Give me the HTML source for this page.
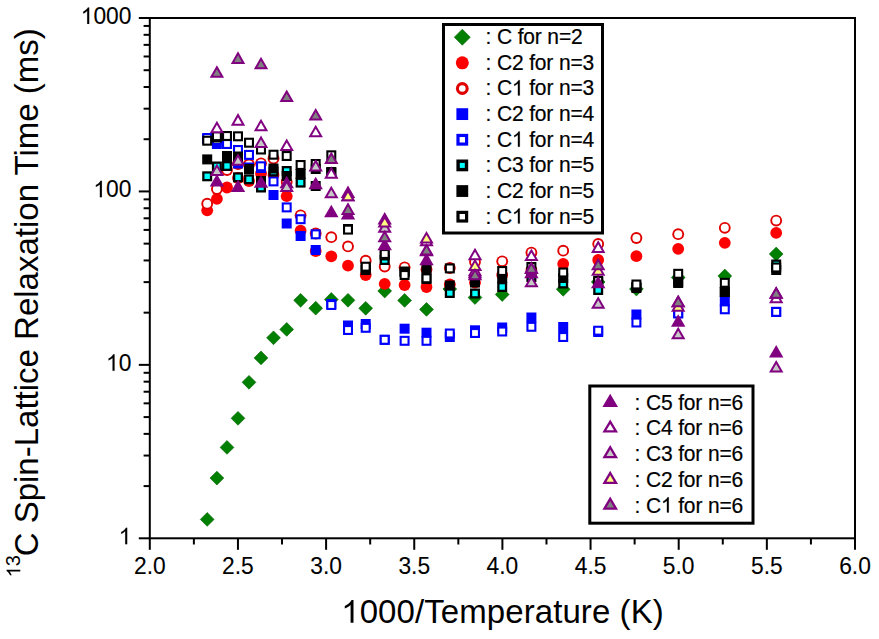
<!DOCTYPE html>
<html><head><meta charset="utf-8"><style>
html,body{margin:0;padding:0;background:#fff;}
svg{display:block;}
text{font-family:"Liberation Sans",sans-serif;fill:#000;stroke:#000;stroke-width:0.2px;}
.t20{font-size:21px;letter-spacing:-0.15px;}
.t22{font-size:22.8px;stroke-width:0.1px;}
.t32{font-size:33px;stroke-width:0;}
.h{fill-opacity:0;stroke-opacity:0;}
.ls{letter-spacing:0.08px;}
</style></head><body>
<svg width="879" height="639" viewBox="0 0 879 639">
<rect width="879" height="639" fill="#fff"/>
<rect x="149.8" y="18" width="705.2" height="520.3" fill="none" stroke="#000" stroke-width="2.0"/>
<line x1="149.8" y1="538.3" x2="149.8" y2="549.8" stroke="#000" stroke-width="2.0"/>
<line x1="193.88" y1="538.3" x2="193.88" y2="544.5" stroke="#000" stroke-width="2.0"/>
<line x1="237.95" y1="538.3" x2="237.95" y2="549.8" stroke="#000" stroke-width="2.0"/>
<line x1="282.03" y1="538.3" x2="282.03" y2="544.5" stroke="#000" stroke-width="2.0"/>
<line x1="326.1" y1="538.3" x2="326.1" y2="549.8" stroke="#000" stroke-width="2.0"/>
<line x1="370.18" y1="538.3" x2="370.18" y2="544.5" stroke="#000" stroke-width="2.0"/>
<line x1="414.25" y1="538.3" x2="414.25" y2="549.8" stroke="#000" stroke-width="2.0"/>
<line x1="458.33" y1="538.3" x2="458.33" y2="544.5" stroke="#000" stroke-width="2.0"/>
<line x1="502.4" y1="538.3" x2="502.4" y2="549.8" stroke="#000" stroke-width="2.0"/>
<line x1="546.48" y1="538.3" x2="546.48" y2="544.5" stroke="#000" stroke-width="2.0"/>
<line x1="590.55" y1="538.3" x2="590.55" y2="549.8" stroke="#000" stroke-width="2.0"/>
<line x1="634.62" y1="538.3" x2="634.62" y2="544.5" stroke="#000" stroke-width="2.0"/>
<line x1="678.7" y1="538.3" x2="678.7" y2="549.8" stroke="#000" stroke-width="2.0"/>
<line x1="722.78" y1="538.3" x2="722.78" y2="544.5" stroke="#000" stroke-width="2.0"/>
<line x1="766.85" y1="538.3" x2="766.85" y2="549.8" stroke="#000" stroke-width="2.0"/>
<line x1="810.92" y1="538.3" x2="810.92" y2="544.5" stroke="#000" stroke-width="2.0"/>
<line x1="855" y1="538.3" x2="855" y2="549.8" stroke="#000" stroke-width="2.0"/>
<line x1="138.8" y1="538.3" x2="149.8" y2="538.3" stroke="#000" stroke-width="2.0"/>
<line x1="143.6" y1="486.09" x2="149.8" y2="486.09" stroke="#000" stroke-width="2.0"/>
<line x1="143.6" y1="455.55" x2="149.8" y2="455.55" stroke="#000" stroke-width="2.0"/>
<line x1="143.6" y1="433.88" x2="149.8" y2="433.88" stroke="#000" stroke-width="2.0"/>
<line x1="143.6" y1="417.08" x2="149.8" y2="417.08" stroke="#000" stroke-width="2.0"/>
<line x1="143.6" y1="403.34" x2="149.8" y2="403.34" stroke="#000" stroke-width="2.0"/>
<line x1="143.6" y1="391.73" x2="149.8" y2="391.73" stroke="#000" stroke-width="2.0"/>
<line x1="143.6" y1="381.67" x2="149.8" y2="381.67" stroke="#000" stroke-width="2.0"/>
<line x1="143.6" y1="372.8" x2="149.8" y2="372.8" stroke="#000" stroke-width="2.0"/>
<line x1="138.8" y1="364.87" x2="149.8" y2="364.87" stroke="#000" stroke-width="2.0"/>
<line x1="143.6" y1="312.66" x2="149.8" y2="312.66" stroke="#000" stroke-width="2.0"/>
<line x1="143.6" y1="282.12" x2="149.8" y2="282.12" stroke="#000" stroke-width="2.0"/>
<line x1="143.6" y1="260.45" x2="149.8" y2="260.45" stroke="#000" stroke-width="2.0"/>
<line x1="143.6" y1="243.64" x2="149.8" y2="243.64" stroke="#000" stroke-width="2.0"/>
<line x1="143.6" y1="229.91" x2="149.8" y2="229.91" stroke="#000" stroke-width="2.0"/>
<line x1="143.6" y1="218.3" x2="149.8" y2="218.3" stroke="#000" stroke-width="2.0"/>
<line x1="143.6" y1="208.24" x2="149.8" y2="208.24" stroke="#000" stroke-width="2.0"/>
<line x1="143.6" y1="199.37" x2="149.8" y2="199.37" stroke="#000" stroke-width="2.0"/>
<line x1="138.8" y1="191.43" x2="149.8" y2="191.43" stroke="#000" stroke-width="2.0"/>
<line x1="143.6" y1="139.22" x2="149.8" y2="139.22" stroke="#000" stroke-width="2.0"/>
<line x1="143.6" y1="108.68" x2="149.8" y2="108.68" stroke="#000" stroke-width="2.0"/>
<line x1="143.6" y1="87.02" x2="149.8" y2="87.02" stroke="#000" stroke-width="2.0"/>
<line x1="143.6" y1="70.21" x2="149.8" y2="70.21" stroke="#000" stroke-width="2.0"/>
<line x1="143.6" y1="56.48" x2="149.8" y2="56.48" stroke="#000" stroke-width="2.0"/>
<line x1="143.6" y1="44.87" x2="149.8" y2="44.87" stroke="#000" stroke-width="2.0"/>
<line x1="143.6" y1="34.81" x2="149.8" y2="34.81" stroke="#000" stroke-width="2.0"/>
<line x1="143.6" y1="25.94" x2="149.8" y2="25.94" stroke="#000" stroke-width="2.0"/>
<line x1="138.8" y1="18" x2="149.8" y2="18" stroke="#000" stroke-width="2.0"/>
<polygon points="207.2,512.5 214.1,519.4 207.2,526.3 200.3,519.4" fill="#008000" stroke="#006000" stroke-width="0.6"/>
<polygon points="216.9,471.2 223.8,478.1 216.9,485 210,478.1" fill="#008000" stroke="#006000" stroke-width="0.6"/>
<polygon points="227,440.5 233.9,447.4 227,454.3 220.1,447.4" fill="#008000" stroke="#006000" stroke-width="0.6"/>
<polygon points="238,411.4 244.9,418.3 238,425.2 231.1,418.3" fill="#008000" stroke="#006000" stroke-width="0.6"/>
<polygon points="249,375.4 255.9,382.3 249,389.2 242.1,382.3" fill="#008000" stroke="#006000" stroke-width="0.6"/>
<polygon points="261,351 267.9,357.9 261,364.8 254.1,357.9" fill="#008000" stroke="#006000" stroke-width="0.6"/>
<polygon points="273.5,330.9 280.4,337.8 273.5,344.7 266.6,337.8" fill="#008000" stroke="#006000" stroke-width="0.6"/>
<polygon points="286.7,322.5 293.6,329.4 286.7,336.3 279.8,329.4" fill="#008000" stroke="#006000" stroke-width="0.6"/>
<polygon points="300.6,293.4 307.5,300.3 300.6,307.2 293.7,300.3" fill="#008000" stroke="#006000" stroke-width="0.6"/>
<polygon points="315.7,301.3 322.6,308.2 315.7,315.1 308.8,308.2" fill="#008000" stroke="#006000" stroke-width="0.6"/>
<polygon points="331.3,292.6 338.2,299.5 331.3,306.4 324.4,299.5" fill="#008000" stroke="#006000" stroke-width="0.6"/>
<polygon points="348,293.4 354.9,300.3 348,307.2 341.1,300.3" fill="#008000" stroke="#006000" stroke-width="0.6"/>
<polygon points="365.7,301.4 372.6,308.3 365.7,315.2 358.8,308.3" fill="#008000" stroke="#006000" stroke-width="0.6"/>
<polygon points="384.7,284.1 391.6,291 384.7,297.9 377.8,291" fill="#008000" stroke="#006000" stroke-width="0.6"/>
<polygon points="404.6,293.5 411.5,300.4 404.6,307.3 397.7,300.4" fill="#008000" stroke="#006000" stroke-width="0.6"/>
<polygon points="426.5,302.5 433.4,309.4 426.5,316.3 419.6,309.4" fill="#008000" stroke="#006000" stroke-width="0.6"/>
<polygon points="449.8,282.1 456.7,289 449.8,295.9 442.9,289" fill="#008000" stroke="#006000" stroke-width="0.6"/>
<polygon points="475,290.6 481.9,297.5 475,304.4 468.1,297.5" fill="#008000" stroke="#006000" stroke-width="0.6"/>
<polygon points="502.2,287.6 509.1,294.5 502.2,301.4 495.3,294.5" fill="#008000" stroke="#006000" stroke-width="0.6"/>
<polygon points="563.2,282.4 570.1,289.3 563.2,296.2 556.3,289.3" fill="#008000" stroke="#006000" stroke-width="0.6"/>
<polygon points="598.2,275.1 605.1,282 598.2,288.9 591.3,282" fill="#008000" stroke="#006000" stroke-width="0.6"/>
<polygon points="636.4,282.1 643.3,289 636.4,295.9 629.5,289" fill="#008000" stroke="#006000" stroke-width="0.6"/>
<polygon points="678.2,270.6 685.1,277.5 678.2,284.4 671.3,277.5" fill="#008000" stroke="#006000" stroke-width="0.6"/>
<polygon points="724.8,269.1 731.7,276 724.8,282.9 717.9,276" fill="#008000" stroke="#006000" stroke-width="0.6"/>
<polygon points="776.2,247.1 783.1,254 776.2,260.9 769.3,254" fill="#008000" stroke="#006000" stroke-width="0.6"/>
<circle cx="207.2" cy="210.3" r="5.9" fill="#ff0000"/>
<circle cx="216.9" cy="198.8" r="5.9" fill="#ff0000"/>
<circle cx="227" cy="187.5" r="5.9" fill="#ff0000"/>
<circle cx="238" cy="178" r="5.9" fill="#ff0000"/>
<circle cx="249" cy="181" r="5.9" fill="#ff0000"/>
<circle cx="261" cy="173.5" r="5.9" fill="#ff0000"/>
<circle cx="273.5" cy="175" r="5.9" fill="#ff0000"/>
<circle cx="286.7" cy="196.2" r="5.9" fill="#ff0000"/>
<circle cx="300.6" cy="230.7" r="5.9" fill="#ff0000"/>
<circle cx="315.7" cy="251" r="5.9" fill="#ff0000"/>
<circle cx="331.3" cy="256.3" r="5.9" fill="#ff0000"/>
<circle cx="348" cy="265.7" r="5.9" fill="#ff0000"/>
<circle cx="365.7" cy="275" r="5.9" fill="#ff0000"/>
<circle cx="384.7" cy="283.8" r="5.9" fill="#ff0000"/>
<circle cx="404.6" cy="285" r="5.9" fill="#ff0000"/>
<circle cx="426.5" cy="287" r="5.9" fill="#ff0000"/>
<circle cx="449.8" cy="284.5" r="5.9" fill="#ff0000"/>
<circle cx="475" cy="282.6" r="5.9" fill="#ff0000"/>
<circle cx="502.2" cy="275" r="5.9" fill="#ff0000"/>
<circle cx="531.4" cy="270" r="5.9" fill="#ff0000"/>
<circle cx="563.2" cy="263.8" r="5.9" fill="#ff0000"/>
<circle cx="598.2" cy="260" r="5.9" fill="#ff0000"/>
<circle cx="636.4" cy="256.2" r="5.9" fill="#ff0000"/>
<circle cx="678.2" cy="248.8" r="5.9" fill="#ff0000"/>
<circle cx="724.8" cy="242.8" r="5.9" fill="#ff0000"/>
<circle cx="776.2" cy="232.9" r="5.9" fill="#ff0000"/>
<circle cx="207.2" cy="203.7" r="5.9" fill="#e00000"/><circle cx="207.2" cy="203.7" r="4" fill="#ffffff"/>
<circle cx="216.9" cy="189" r="5.9" fill="#e00000"/><circle cx="216.9" cy="189" r="4" fill="#ffffff"/>
<circle cx="227" cy="170" r="5.9" fill="#e00000"/><circle cx="227" cy="170" r="4" fill="#ffffff"/>
<circle cx="238" cy="164" r="5.9" fill="#e00000"/><circle cx="238" cy="164" r="4" fill="#ffffff"/>
<circle cx="249" cy="164.5" r="5.9" fill="#e00000"/><circle cx="249" cy="164.5" r="4" fill="#ffffff"/>
<circle cx="261" cy="163.3" r="5.9" fill="#e00000"/><circle cx="261" cy="163.3" r="4" fill="#ffffff"/>
<circle cx="273.5" cy="158.5" r="5.9" fill="#e00000"/><circle cx="273.5" cy="158.5" r="4" fill="#ffffff"/>
<circle cx="286.7" cy="182" r="5.9" fill="#e00000"/><circle cx="286.7" cy="182" r="4" fill="#ffffff"/>
<circle cx="300.6" cy="215.3" r="5.9" fill="#e00000"/><circle cx="300.6" cy="215.3" r="4" fill="#ffffff"/>
<circle cx="315.7" cy="233.5" r="5.9" fill="#e00000"/><circle cx="315.7" cy="233.5" r="4" fill="#ffffff"/>
<circle cx="331.3" cy="237.2" r="5.9" fill="#e00000"/><circle cx="331.3" cy="237.2" r="4" fill="#ffffff"/>
<circle cx="348" cy="246.4" r="5.9" fill="#e00000"/><circle cx="348" cy="246.4" r="4" fill="#ffffff"/>
<circle cx="365.7" cy="260.7" r="5.9" fill="#e00000"/><circle cx="365.7" cy="260.7" r="4" fill="#ffffff"/>
<circle cx="384.7" cy="266.5" r="5.9" fill="#e00000"/><circle cx="384.7" cy="266.5" r="4" fill="#ffffff"/>
<circle cx="404.6" cy="267.3" r="5.9" fill="#e00000"/><circle cx="404.6" cy="267.3" r="4" fill="#ffffff"/>
<circle cx="426.5" cy="269.5" r="5.9" fill="#e00000"/><circle cx="426.5" cy="269.5" r="4" fill="#ffffff"/>
<circle cx="449.8" cy="268" r="5.9" fill="#e00000"/><circle cx="449.8" cy="268" r="4" fill="#ffffff"/>
<circle cx="475" cy="262" r="5.9" fill="#e00000"/><circle cx="475" cy="262" r="4" fill="#ffffff"/>
<circle cx="502.2" cy="261.3" r="5.9" fill="#e00000"/><circle cx="502.2" cy="261.3" r="4" fill="#ffffff"/>
<circle cx="531.4" cy="252.6" r="5.9" fill="#e00000"/><circle cx="531.4" cy="252.6" r="4" fill="#ffffff"/>
<circle cx="563.2" cy="250.7" r="5.9" fill="#e00000"/><circle cx="563.2" cy="250.7" r="4" fill="#ffffff"/>
<circle cx="598.2" cy="243.9" r="5.9" fill="#e00000"/><circle cx="598.2" cy="243.9" r="4" fill="#ffffff"/>
<circle cx="636.4" cy="238" r="5.9" fill="#e00000"/><circle cx="636.4" cy="238" r="4" fill="#ffffff"/>
<circle cx="678.2" cy="234.2" r="5.9" fill="#e00000"/><circle cx="678.2" cy="234.2" r="4" fill="#ffffff"/>
<circle cx="724.8" cy="227.8" r="5.9" fill="#e00000"/><circle cx="724.8" cy="227.8" r="4" fill="#ffffff"/>
<circle cx="776.2" cy="220.6" r="5.9" fill="#e00000"/><circle cx="776.2" cy="220.6" r="4" fill="#ffffff"/>
<rect x="202.2" y="134" width="10" height="10" fill="#0000ff"/>
<rect x="211.9" y="139" width="10" height="10" fill="#0000ff"/>
<rect x="222" y="151" width="10" height="10" fill="#0000ff"/>
<rect x="233" y="158.5" width="10" height="10" fill="#0000ff"/>
<rect x="244" y="162.5" width="10" height="10" fill="#0000ff"/>
<rect x="256" y="163" width="10" height="10" fill="#0000ff"/>
<rect x="268.5" y="190" width="10" height="10" fill="#0000ff"/>
<rect x="281.7" y="218.5" width="10" height="10" fill="#0000ff"/>
<rect x="295.6" y="231" width="10" height="10" fill="#0000ff"/>
<rect x="310.7" y="245" width="10" height="10" fill="#0000ff"/>
<rect x="326.3" y="299" width="10" height="10" fill="#0000ff"/>
<rect x="343" y="320.5" width="10" height="10" fill="#0000ff"/>
<rect x="360.7" y="319" width="10" height="10" fill="#0000ff"/>
<rect x="379.7" y="334.8" width="10" height="10" fill="#0000ff"/>
<rect x="399.6" y="323.7" width="10" height="10" fill="#0000ff"/>
<rect x="421.5" y="327.7" width="10" height="10" fill="#0000ff"/>
<rect x="444.8" y="332" width="10" height="10" fill="#0000ff"/>
<rect x="470" y="325.3" width="10" height="10" fill="#0000ff"/>
<rect x="497.2" y="322.5" width="10" height="10" fill="#0000ff"/>
<rect x="526.4" y="312.5" width="10" height="10" fill="#0000ff"/>
<rect x="558.2" y="322" width="10" height="10" fill="#0000ff"/>
<rect x="593.2" y="327" width="10" height="10" fill="#0000ff"/>
<rect x="631.4" y="309.5" width="10" height="10" fill="#0000ff"/>
<rect x="673.2" y="308" width="10" height="10" fill="#0000ff"/>
<rect x="719.8" y="296.5" width="10" height="10" fill="#0000ff"/>
<rect x="771.2" y="306.9" width="10" height="10" fill="#0000ff"/>
<rect x="202.2" y="133" width="10" height="10" fill="#0000ff"/><rect x="204.3" y="135.1" width="5.8" height="5.8" fill="#ffffff"/>
<rect x="211.9" y="135" width="10" height="10" fill="#0000ff"/><rect x="214" y="137.1" width="5.8" height="5.8" fill="#ffffff"/>
<rect x="222" y="139" width="10" height="10" fill="#0000ff"/><rect x="224.1" y="141.1" width="5.8" height="5.8" fill="#ffffff"/>
<rect x="233" y="145" width="10" height="10" fill="#0000ff"/><rect x="235.1" y="147.1" width="5.8" height="5.8" fill="#ffffff"/>
<rect x="244" y="149.9" width="10" height="10" fill="#0000ff"/><rect x="246.1" y="152" width="5.8" height="5.8" fill="#ffffff"/>
<rect x="256" y="161.3" width="10" height="10" fill="#0000ff"/><rect x="258.1" y="163.4" width="5.8" height="5.8" fill="#ffffff"/>
<rect x="268.5" y="176.4" width="10" height="10" fill="#0000ff"/><rect x="270.6" y="178.5" width="5.8" height="5.8" fill="#ffffff"/>
<rect x="281.7" y="202.4" width="10" height="10" fill="#0000ff"/><rect x="283.8" y="204.5" width="5.8" height="5.8" fill="#ffffff"/>
<rect x="295.6" y="214.2" width="10" height="10" fill="#0000ff"/><rect x="297.7" y="216.3" width="5.8" height="5.8" fill="#ffffff"/>
<rect x="310.7" y="229.3" width="10" height="10" fill="#0000ff"/><rect x="312.8" y="231.4" width="5.8" height="5.8" fill="#ffffff"/>
<rect x="326.3" y="300" width="10" height="10" fill="#0000ff"/><rect x="328.4" y="302.1" width="5.8" height="5.8" fill="#ffffff"/>
<rect x="343" y="325" width="10" height="10" fill="#0000ff"/><rect x="345.1" y="327.1" width="5.8" height="5.8" fill="#ffffff"/>
<rect x="360.7" y="322.8" width="10" height="10" fill="#0000ff"/><rect x="362.8" y="324.9" width="5.8" height="5.8" fill="#ffffff"/>
<rect x="379.7" y="334.8" width="10" height="10" fill="#0000ff"/><rect x="381.8" y="336.9" width="5.8" height="5.8" fill="#ffffff"/>
<rect x="399.6" y="335.8" width="10" height="10" fill="#0000ff"/><rect x="401.7" y="337.9" width="5.8" height="5.8" fill="#ffffff"/>
<rect x="421.5" y="335.8" width="10" height="10" fill="#0000ff"/><rect x="423.6" y="337.9" width="5.8" height="5.8" fill="#ffffff"/>
<rect x="444.8" y="328.5" width="10" height="10" fill="#0000ff"/><rect x="446.9" y="330.6" width="5.8" height="5.8" fill="#ffffff"/>
<rect x="470" y="328" width="10" height="10" fill="#0000ff"/><rect x="472.1" y="330.1" width="5.8" height="5.8" fill="#ffffff"/>
<rect x="497.2" y="326.5" width="10" height="10" fill="#0000ff"/><rect x="499.3" y="328.6" width="5.8" height="5.8" fill="#ffffff"/>
<rect x="526.4" y="321.8" width="10" height="10" fill="#0000ff"/><rect x="528.5" y="323.9" width="5.8" height="5.8" fill="#ffffff"/>
<rect x="558.2" y="332" width="10" height="10" fill="#0000ff"/><rect x="560.3" y="334.1" width="5.8" height="5.8" fill="#ffffff"/>
<rect x="593.2" y="325.7" width="10" height="10" fill="#0000ff"/><rect x="595.3" y="327.8" width="5.8" height="5.8" fill="#ffffff"/>
<rect x="631.4" y="317.5" width="10" height="10" fill="#0000ff"/><rect x="633.5" y="319.6" width="5.8" height="5.8" fill="#ffffff"/>
<rect x="673.2" y="308.5" width="10" height="10" fill="#0000ff"/><rect x="675.3" y="310.6" width="5.8" height="5.8" fill="#ffffff"/>
<rect x="719.8" y="304.3" width="10" height="10" fill="#0000ff"/><rect x="721.9" y="306.4" width="5.8" height="5.8" fill="#ffffff"/>
<rect x="771.2" y="306.9" width="10" height="10" fill="#0000ff"/><rect x="773.3" y="309" width="5.8" height="5.8" fill="#ffffff"/>
<rect x="202.2" y="171.3" width="10" height="10" fill="#000000"/><rect x="204.5" y="173.6" width="5.4" height="5.4" fill="#00ffff"/>
<rect x="211.9" y="161.5" width="10" height="10" fill="#000000"/><rect x="214.2" y="163.8" width="5.4" height="5.4" fill="#00ffff"/>
<rect x="222" y="161" width="10" height="10" fill="#000000"/><rect x="224.3" y="163.3" width="5.4" height="5.4" fill="#00ffff"/>
<rect x="233" y="172.3" width="10" height="10" fill="#000000"/><rect x="235.3" y="174.6" width="5.4" height="5.4" fill="#00ffff"/>
<rect x="244" y="174.3" width="10" height="10" fill="#000000"/><rect x="246.3" y="176.6" width="5.4" height="5.4" fill="#00ffff"/>
<rect x="256" y="182.5" width="10" height="10" fill="#000000"/><rect x="258.3" y="184.8" width="5.4" height="5.4" fill="#00ffff"/>
<rect x="268.5" y="166.5" width="10" height="10" fill="#000000"/><rect x="270.8" y="168.8" width="5.4" height="5.4" fill="#00ffff"/>
<rect x="281.7" y="166" width="10" height="10" fill="#000000"/><rect x="284" y="168.3" width="5.4" height="5.4" fill="#00ffff"/>
<rect x="295.6" y="177.6" width="10" height="10" fill="#000000"/><rect x="297.9" y="179.9" width="5.4" height="5.4" fill="#00ffff"/>
<rect x="310.7" y="181" width="10" height="10" fill="#000000"/><rect x="313" y="183.3" width="5.4" height="5.4" fill="#00ffff"/>
<rect x="326.3" y="167" width="10" height="10" fill="#000000"/><rect x="328.6" y="169.3" width="5.4" height="5.4" fill="#00ffff"/>
<rect x="343" y="224" width="10" height="10" fill="#000000"/><rect x="345.3" y="226.3" width="5.4" height="5.4" fill="#00ffff"/>
<rect x="360.7" y="265" width="10" height="10" fill="#000000"/><rect x="363" y="267.3" width="5.4" height="5.4" fill="#00ffff"/>
<rect x="379.7" y="255" width="10" height="10" fill="#000000"/><rect x="382" y="257.3" width="5.4" height="5.4" fill="#00ffff"/>
<rect x="399.6" y="267" width="10" height="10" fill="#000000"/><rect x="401.9" y="269.3" width="5.4" height="5.4" fill="#00ffff"/>
<rect x="421.5" y="274" width="10" height="10" fill="#000000"/><rect x="423.8" y="276.3" width="5.4" height="5.4" fill="#00ffff"/>
<rect x="444.8" y="288" width="10" height="10" fill="#000000"/><rect x="447.1" y="290.3" width="5.4" height="5.4" fill="#00ffff"/>
<rect x="470" y="288.5" width="10" height="10" fill="#000000"/><rect x="472.3" y="290.8" width="5.4" height="5.4" fill="#00ffff"/>
<rect x="497.2" y="282" width="10" height="10" fill="#000000"/><rect x="499.5" y="284.3" width="5.4" height="5.4" fill="#00ffff"/>
<rect x="526.4" y="272" width="10" height="10" fill="#000000"/><rect x="528.7" y="274.3" width="5.4" height="5.4" fill="#00ffff"/>
<rect x="558.2" y="278.5" width="10" height="10" fill="#000000"/><rect x="560.5" y="280.8" width="5.4" height="5.4" fill="#00ffff"/>
<rect x="593.2" y="285" width="10" height="10" fill="#000000"/><rect x="595.5" y="287.3" width="5.4" height="5.4" fill="#00ffff"/>
<rect x="631.4" y="283" width="10" height="10" fill="#000000"/><rect x="633.7" y="285.3" width="5.4" height="5.4" fill="#00ffff"/>
<rect x="673.2" y="278" width="10" height="10" fill="#000000"/><rect x="675.5" y="280.3" width="5.4" height="5.4" fill="#00ffff"/>
<rect x="719.8" y="287" width="10" height="10" fill="#000000"/><rect x="722.1" y="289.3" width="5.4" height="5.4" fill="#00ffff"/>
<rect x="771.2" y="259.5" width="10" height="10" fill="#000000"/><rect x="773.5" y="261.8" width="5.4" height="5.4" fill="#00ffff"/>
<rect x="202.2" y="154.4" width="10" height="10" fill="#000000"/>
<rect x="211.9" y="132.5" width="10" height="10" fill="#000000"/>
<rect x="222" y="151" width="10" height="10" fill="#000000"/>
<rect x="233" y="151.5" width="10" height="10" fill="#000000"/>
<rect x="244" y="164" width="10" height="10" fill="#000000"/>
<rect x="256" y="176" width="10" height="10" fill="#000000"/>
<rect x="268.5" y="163.5" width="10" height="10" fill="#000000"/>
<rect x="281.7" y="171" width="10" height="10" fill="#000000"/>
<rect x="295.6" y="169" width="10" height="10" fill="#000000"/>
<rect x="310.7" y="164" width="10" height="10" fill="#000000"/>
<rect x="326.3" y="167.7" width="10" height="10" fill="#000000"/>
<rect x="343" y="224" width="10" height="10" fill="#000000"/>
<rect x="360.7" y="263" width="10" height="10" fill="#000000"/>
<rect x="379.7" y="250.5" width="10" height="10" fill="#000000"/>
<rect x="399.6" y="266.5" width="10" height="10" fill="#000000"/>
<rect x="421.5" y="264.3" width="10" height="10" fill="#000000"/>
<rect x="444.8" y="280.5" width="10" height="10" fill="#000000"/>
<rect x="470" y="277.5" width="10" height="10" fill="#000000"/>
<rect x="497.2" y="273" width="10" height="10" fill="#000000"/>
<rect x="526.4" y="267" width="10" height="10" fill="#000000"/>
<rect x="558.2" y="273" width="10" height="10" fill="#000000"/>
<rect x="593.2" y="277" width="10" height="10" fill="#000000"/>
<rect x="631.4" y="282" width="10" height="10" fill="#000000"/>
<rect x="673.2" y="277" width="10" height="10" fill="#000000"/>
<rect x="719.8" y="287" width="10" height="10" fill="#000000"/>
<rect x="771.2" y="265" width="10" height="10" fill="#000000"/>
<rect x="202.2" y="135.7" width="10" height="10" fill="#000000"/><rect x="204.3" y="137.8" width="5.8" height="5.8" fill="#ffffff"/>
<rect x="211.9" y="131.2" width="10" height="10" fill="#000000"/><rect x="214" y="133.3" width="5.8" height="5.8" fill="#ffffff"/>
<rect x="222" y="131" width="10" height="10" fill="#000000"/><rect x="224.1" y="133.1" width="5.8" height="5.8" fill="#ffffff"/>
<rect x="233" y="131.3" width="10" height="10" fill="#000000"/><rect x="235.1" y="133.4" width="5.8" height="5.8" fill="#ffffff"/>
<rect x="244" y="137.7" width="10" height="10" fill="#000000"/><rect x="246.1" y="139.8" width="5.8" height="5.8" fill="#ffffff"/>
<rect x="256" y="144.5" width="10" height="10" fill="#000000"/><rect x="258.1" y="146.6" width="5.8" height="5.8" fill="#ffffff"/>
<rect x="268.5" y="149.7" width="10" height="10" fill="#000000"/><rect x="270.6" y="151.8" width="5.8" height="5.8" fill="#ffffff"/>
<rect x="281.7" y="151" width="10" height="10" fill="#000000"/><rect x="283.8" y="153.1" width="5.8" height="5.8" fill="#ffffff"/>
<rect x="295.6" y="160" width="10" height="10" fill="#000000"/><rect x="297.7" y="162.1" width="5.8" height="5.8" fill="#ffffff"/>
<rect x="310.7" y="159" width="10" height="10" fill="#000000"/><rect x="312.8" y="161.1" width="5.8" height="5.8" fill="#ffffff"/>
<rect x="326.3" y="150.3" width="10" height="10" fill="#000000"/><rect x="328.4" y="152.4" width="5.8" height="5.8" fill="#ffffff"/>
<rect x="343" y="224.6" width="10" height="10" fill="#000000"/><rect x="345.1" y="226.7" width="5.8" height="5.8" fill="#ffffff"/>
<rect x="360.7" y="261.7" width="10" height="10" fill="#000000"/><rect x="362.8" y="263.8" width="5.8" height="5.8" fill="#ffffff"/>
<rect x="379.7" y="249" width="10" height="10" fill="#000000"/><rect x="381.8" y="251.1" width="5.8" height="5.8" fill="#ffffff"/>
<rect x="399.6" y="270" width="10" height="10" fill="#000000"/><rect x="401.7" y="272.1" width="5.8" height="5.8" fill="#ffffff"/>
<rect x="421.5" y="273.3" width="10" height="10" fill="#000000"/><rect x="423.6" y="275.4" width="5.8" height="5.8" fill="#ffffff"/>
<rect x="444.8" y="263.4" width="10" height="10" fill="#000000"/><rect x="446.9" y="265.5" width="5.8" height="5.8" fill="#ffffff"/>
<rect x="497.2" y="266" width="10" height="10" fill="#000000"/><rect x="499.3" y="268.1" width="5.8" height="5.8" fill="#ffffff"/>
<rect x="526.4" y="262" width="10" height="10" fill="#000000"/><rect x="528.5" y="264.1" width="5.8" height="5.8" fill="#ffffff"/>
<rect x="558.2" y="267.5" width="10" height="10" fill="#000000"/><rect x="560.3" y="269.6" width="5.8" height="5.8" fill="#ffffff"/>
<rect x="593.2" y="276" width="10" height="10" fill="#000000"/><rect x="595.3" y="278.1" width="5.8" height="5.8" fill="#ffffff"/>
<rect x="631.4" y="279.5" width="10" height="10" fill="#000000"/><rect x="633.5" y="281.6" width="5.8" height="5.8" fill="#ffffff"/>
<rect x="673.2" y="268.8" width="10" height="10" fill="#000000"/><rect x="675.3" y="270.9" width="5.8" height="5.8" fill="#ffffff"/>
<rect x="719.8" y="277.8" width="10" height="10" fill="#000000"/><rect x="721.9" y="279.9" width="5.8" height="5.8" fill="#ffffff"/>
<rect x="771.2" y="262.5" width="10" height="10" fill="#000000"/><rect x="773.3" y="264.6" width="5.8" height="5.8" fill="#ffffff"/>
<polygon points="216.9,173.9 224.1,186.5 209.7,186.5" fill="#800080"/>
<polygon points="238,179.5 245.2,192.1 230.8,192.1" fill="#800080"/>
<polygon points="261,175.2 268.2,187.8 253.8,187.8" fill="#800080"/>
<polygon points="286.7,175.7 293.9,188.3 279.5,188.3" fill="#800080"/>
<polygon points="315.7,176.7 322.9,189.3 308.5,189.3" fill="#800080"/>
<polygon points="331.3,204.7 338.5,217.3 324.1,217.3" fill="#800080"/>
<polygon points="348,206.9 355.2,219.5 340.8,219.5" fill="#800080"/>
<polygon points="384.7,237.7 391.9,250.3 377.5,250.3" fill="#800080"/>
<polygon points="426.5,252.7 433.7,265.3 419.3,265.3" fill="#800080"/>
<polygon points="475,265.7 482.2,278.3 467.8,278.3" fill="#800080"/>
<polygon points="531.4,265.7 538.6,278.3 524.2,278.3" fill="#800080"/>
<polygon points="598.2,275.7 605.4,288.3 591,288.3" fill="#800080"/>
<polygon points="678.2,314.2 685.4,326.8 671,326.8" fill="#800080"/>
<polygon points="776.2,344.9 783.4,357.5 769,357.5" fill="#800080"/>
<polygon points="216.9,120.7 224.1,133.3 209.7,133.3" fill="#800080"/><polygon points="216.9,124.73 220.65,131.3 213.15,131.3" fill="#ffffff"/>
<polygon points="238,113.1 245.2,125.7 230.8,125.7" fill="#800080"/><polygon points="238,117.13 241.75,123.7 234.25,123.7" fill="#ffffff"/>
<polygon points="261,118.7 268.2,131.3 253.8,131.3" fill="#800080"/><polygon points="261,122.73 264.75,129.3 257.25,129.3" fill="#ffffff"/>
<polygon points="286.7,138.5 293.9,151.1 279.5,151.1" fill="#800080"/><polygon points="286.7,142.53 290.45,149.1 282.95,149.1" fill="#ffffff"/>
<polygon points="315.7,124.7 322.9,137.3 308.5,137.3" fill="#800080"/><polygon points="315.7,128.73 319.45,135.3 311.95,135.3" fill="#ffffff"/>
<polygon points="331.3,166.2 338.5,178.8 324.1,178.8" fill="#800080"/><polygon points="331.3,170.23 335.05,176.8 327.55,176.8" fill="#ffffff"/>
<polygon points="348,185.5 355.2,198.1 340.8,198.1" fill="#800080"/><polygon points="348,189.53 351.75,196.1 344.25,196.1" fill="#ffffff"/>
<polygon points="384.7,212 391.9,224.6 377.5,224.6" fill="#800080"/><polygon points="384.7,216.03 388.45,222.6 380.95,222.6" fill="#ffffff"/>
<polygon points="426.5,233.7 433.7,246.3 419.3,246.3" fill="#800080"/><polygon points="426.5,237.73 430.25,244.3 422.75,244.3" fill="#ffffff"/>
<polygon points="475,247.7 482.2,260.3 467.8,260.3" fill="#800080"/><polygon points="475,251.73 478.75,258.3 471.25,258.3" fill="#ffffff"/>
<polygon points="531.4,248.5 538.6,261.1 524.2,261.1" fill="#800080"/><polygon points="531.4,252.53 535.15,259.1 527.65,259.1" fill="#ffffff"/>
<polygon points="598.2,240.3 605.4,252.9 591,252.9" fill="#800080"/><polygon points="598.2,244.33 601.95,250.9 594.45,250.9" fill="#ffffff"/>
<polygon points="678.2,294.7 685.4,307.3 671,307.3" fill="#800080"/><polygon points="678.2,298.73 681.95,305.3 674.45,305.3" fill="#ffffff"/>
<polygon points="776.2,290.7 783.4,303.3 769,303.3" fill="#800080"/><polygon points="776.2,294.73 779.95,301.3 772.45,301.3" fill="#ffffff"/>
<polygon points="216.9,163.4 224.1,176 209.7,176" fill="#800080"/><polygon points="216.9,167.43 220.65,174 213.15,174" fill="#c8c8c8"/>
<polygon points="238,153.2 245.2,165.8 230.8,165.8" fill="#800080"/><polygon points="238,157.23 241.75,163.8 234.25,163.8" fill="#c8c8c8"/>
<polygon points="261,135.5 268.2,148.1 253.8,148.1" fill="#800080"/><polygon points="261,139.53 264.75,146.1 257.25,146.1" fill="#c8c8c8"/>
<polygon points="286.7,179.4 293.9,192 279.5,192" fill="#800080"/><polygon points="286.7,183.43 290.45,190 282.95,190" fill="#c8c8c8"/>
<polygon points="315.7,159 322.9,171.6 308.5,171.6" fill="#800080"/><polygon points="315.7,163.03 319.45,169.6 311.95,169.6" fill="#c8c8c8"/>
<polygon points="331.3,185.7 338.5,198.3 324.1,198.3" fill="#800080"/><polygon points="331.3,189.73 335.05,196.3 327.55,196.3" fill="#c8c8c8"/>
<polygon points="348,188.7 355.2,201.3 340.8,201.3" fill="#800080"/><polygon points="348,192.73 351.75,199.3 344.25,199.3" fill="#c8c8c8"/>
<polygon points="384.7,220.1 391.9,232.7 377.5,232.7" fill="#800080"/><polygon points="384.7,224.13 388.45,230.7 380.95,230.7" fill="#c8c8c8"/>
<polygon points="426.5,243.7 433.7,256.3 419.3,256.3" fill="#800080"/><polygon points="426.5,247.73 430.25,254.3 422.75,254.3" fill="#c8c8c8"/>
<polygon points="475,263.7 482.2,276.3 467.8,276.3" fill="#800080"/><polygon points="475,267.73 478.75,274.3 471.25,274.3" fill="#c8c8c8"/>
<polygon points="531.4,274.7 538.6,287.3 524.2,287.3" fill="#800080"/><polygon points="531.4,278.73 535.15,285.3 527.65,285.3" fill="#c8c8c8"/>
<polygon points="598.2,296.2 605.4,308.8 591,308.8" fill="#800080"/><polygon points="598.2,300.23 601.95,306.8 594.45,306.8" fill="#c8c8c8"/>
<polygon points="678.2,326.7 685.4,339.3 671,339.3" fill="#800080"/><polygon points="678.2,330.73 681.95,337.3 674.45,337.3" fill="#c8c8c8"/>
<polygon points="776.2,359.9 783.4,372.5 769,372.5" fill="#800080"/><polygon points="776.2,363.93 779.95,370.5 772.45,370.5" fill="#c8c8c8"/>
<polygon points="348,188.7 355.2,201.3 340.8,201.3" fill="#800080"/><polygon points="348,192.73 351.75,199.3 344.25,199.3" fill="#ffff80"/>
<polygon points="384.7,215 391.9,227.6 377.5,227.6" fill="#800080"/><polygon points="384.7,219.03 388.45,225.6 380.95,225.6" fill="#ffff80"/>
<polygon points="426.5,230.9 433.7,243.5 419.3,243.5" fill="#800080"/><polygon points="426.5,234.93 430.25,241.5 422.75,241.5" fill="#ffff80"/>
<polygon points="475,258.5 482.2,271.1 467.8,271.1" fill="#800080"/><polygon points="475,262.53 478.75,269.1 471.25,269.1" fill="#ffff80"/>
<polygon points="531.4,261.2 538.6,273.8 524.2,273.8" fill="#800080"/><polygon points="531.4,265.23 535.15,271.8 527.65,271.8" fill="#ffff80"/>
<polygon points="598.2,263.2 605.4,275.8 591,275.8" fill="#800080"/><polygon points="598.2,267.23 601.95,273.8 594.45,273.8" fill="#ffff80"/>
<polygon points="678.2,299.2 685.4,311.8 671,311.8" fill="#800080"/><polygon points="678.2,303.23 681.95,309.8 674.45,309.8" fill="#ffff80"/>
<polygon points="776.2,286.2 783.4,298.8 769,298.8" fill="#800080"/><polygon points="776.2,290.23 779.95,296.8 772.45,296.8" fill="#ffff80"/>
<polygon points="216.9,65.2 224.1,77.8 209.7,77.8" fill="#800080"/><polygon points="216.9,69.23 220.65,75.8 213.15,75.8" fill="#808080"/>
<polygon points="238,51.3 245.2,63.9 230.8,63.9" fill="#800080"/><polygon points="238,55.33 241.75,61.9 234.25,61.9" fill="#808080"/>
<polygon points="261,56.7 268.2,69.3 253.8,69.3" fill="#800080"/><polygon points="261,60.73 264.75,67.3 257.25,67.3" fill="#808080"/>
<polygon points="286.7,89.5 293.9,102.1 279.5,102.1" fill="#800080"/><polygon points="286.7,93.53 290.45,100.1 282.95,100.1" fill="#808080"/>
<polygon points="315.7,108 322.9,120.6 308.5,120.6" fill="#800080"/><polygon points="315.7,112.03 319.45,118.6 311.95,118.6" fill="#808080"/>
<polygon points="331.3,151.5 338.5,164.1 324.1,164.1" fill="#800080"/><polygon points="331.3,155.53 335.05,162.1 327.55,162.1" fill="#808080"/>
<polygon points="348,202.3 355.2,214.9 340.8,214.9" fill="#800080"/><polygon points="348,206.33 351.75,212.9 344.25,212.9" fill="#808080"/>
<polygon points="384.7,229.7 391.9,242.3 377.5,242.3" fill="#800080"/><polygon points="384.7,233.73 388.45,240.3 380.95,240.3" fill="#808080"/>
<polygon points="426.5,243 433.7,255.6 419.3,255.6" fill="#800080"/><polygon points="426.5,247.03 430.25,253.6 422.75,253.6" fill="#808080"/>
<polygon points="475,267.7 482.2,280.3 467.8,280.3" fill="#800080"/><polygon points="475,271.73 478.75,278.3 471.25,278.3" fill="#808080"/>
<polygon points="531.4,261.2 538.6,273.8 524.2,273.8" fill="#800080"/><polygon points="531.4,265.23 535.15,271.8 527.65,271.8" fill="#808080"/>
<polygon points="598.2,257.7 605.4,270.3 591,270.3" fill="#800080"/><polygon points="598.2,261.73 601.95,268.3 594.45,268.3" fill="#808080"/>
<polygon points="678.2,294.7 685.4,307.3 671,307.3" fill="#800080"/><polygon points="678.2,298.73 681.95,305.3 674.45,305.3" fill="#808080"/>
<polygon points="776.2,286.2 783.4,298.8 769,298.8" fill="#800080"/><polygon points="776.2,290.23 779.95,296.8 772.45,296.8" fill="#808080"/>
<rect x="443.5" y="24.5" width="159" height="208.5" fill="#fff" stroke="#000" stroke-width="3"/>
<polygon points="462.3,29.2 470.3,37.2 462.3,45.2 454.3,37.2" fill="#008000" stroke="#006000" stroke-width="0.6"/>
<circle cx="462.3" cy="62.84" r="6.5" fill="#ff0000"/>
<circle cx="462.3" cy="88.48" r="6.4" fill="#e00000"/><circle cx="462.3" cy="88.48" r="3.3" fill="#fff"/>
<rect x="456.4" y="108.22" width="11.8" height="11.8" fill="#0000ff"/>
<rect x="456.4" y="133.86" width="11.8" height="11.8" fill="#0000ff"/><rect x="459.6" y="137.06" width="5.4" height="5.4" fill="#fff"/>
<rect x="456.4" y="159.5" width="11.8" height="11.8" fill="#000"/><rect x="459.8" y="162.9" width="5" height="5" fill="#00ffff"/>
<rect x="456.4" y="185.14" width="11.8" height="11.8" fill="#000"/>
<rect x="456.4" y="210.78" width="11.8" height="11.8" fill="#000"/><rect x="459.6" y="213.98" width="5.4" height="5.4" fill="#fff"/>
<rect x="589.8" y="386" width="163.2" height="137.2" fill="#fff" stroke="#000" stroke-width="3"/>
<polygon points="610.2,393.7 618,406.9 602.4,406.9" fill="#800080"/>
<polygon points="610.2,419.4 618,432.6 602.4,432.6" fill="#800080"/><polygon points="610.2,423.92 613.97,430.3 606.43,430.3" fill="#fff"/>
<polygon points="610.2,445.1 618,458.3 602.4,458.3" fill="#800080"/><polygon points="610.2,449.62 613.97,456 606.43,456" fill="#c8c8c8"/>
<polygon points="610.2,470.8 618,484 602.4,484" fill="#800080"/><polygon points="610.2,475.32 613.97,481.7 606.43,481.7" fill="#ffff80"/>
<polygon points="610.2,496.5 618,509.7 602.4,509.7" fill="#800080"/><polygon points="610.2,501.02 613.97,507.4 606.43,507.4" fill="#808080"/>

<g transform="translate(149.8,574) scale(1,1.05)"><text id="tx0" x="0" y="0" class="t22" text-anchor="middle">2.0</text></g>
<g transform="translate(237.95,574) scale(1,1.05)"><text id="tx1" x="0" y="0" class="t22" text-anchor="middle">2.5</text></g>
<g transform="translate(326.1,574) scale(1,1.05)"><text id="tx2" x="0" y="0" class="t22" text-anchor="middle">3.0</text></g>
<g transform="translate(414.25,574) scale(1,1.05)"><text id="tx3" x="0" y="0" class="t22" text-anchor="middle">3.5</text></g>
<g transform="translate(502.4,574) scale(1,1.05)"><text id="tx4" x="0" y="0" class="t22" text-anchor="middle">4.0</text></g>
<g transform="translate(590.55,574) scale(1,1.05)"><text id="tx5" x="0" y="0" class="t22" text-anchor="middle">4.5</text></g>
<g transform="translate(678.7,574) scale(1,1.05)"><text id="tx6" x="0" y="0" class="t22" text-anchor="middle">5.0</text></g>
<g transform="translate(766.85,574) scale(1,1.05)"><text id="tx7" x="0" y="0" class="t22" text-anchor="middle">5.5</text></g>
<g transform="translate(855,574) scale(1,1.05)"><text id="tx8" x="0" y="0" class="t22" text-anchor="middle">6.0</text></g>
<g transform="translate(131.4,544.2) scale(1,1.05)"><text id="tx9" x="0" y="0" class="t22" text-anchor="end"><tspan class="h">1</tspan></text><path d="M763,0L583,0L583,1099Q500,1023 390,961Q290,906 222,882L222,1050Q360,1111 470,1203Q590,1303 646,1409L763,1409Z" transform="translate(-12.68,0) scale(0.01113,-0.01113)" fill="#000" stroke="#000" stroke-width="9.0"/></g>
<g transform="translate(131.4,370.77) scale(1,1.05)"><text id="tx10" x="0" y="0" class="t22" text-anchor="end"><tspan class="h">1</tspan>0</text><path d="M763,0L583,0L583,1099Q500,1023 390,961Q290,906 222,882L222,1050Q360,1111 470,1203Q590,1303 646,1409L763,1409Z" transform="translate(-25.34,0) scale(0.01113,-0.01113)" fill="#000" stroke="#000" stroke-width="9.0"/></g>
<g transform="translate(131.4,197.33) scale(1,1.05)"><text id="tx11" x="0" y="0" class="t22" text-anchor="end"><tspan class="h">1</tspan>00</text><path d="M763,0L583,0L583,1099Q500,1023 390,961Q290,906 222,882L222,1050Q360,1111 470,1203Q590,1303 646,1409L763,1409Z" transform="translate(-38.02,0) scale(0.01113,-0.01113)" fill="#000" stroke="#000" stroke-width="9.0"/></g>
<g transform="translate(131.4,23.9) scale(1,1.05)"><text id="tx12" x="0" y="0" class="t22" text-anchor="end"><tspan class="h">1</tspan>000</text><path d="M763,0L583,0L583,1099Q500,1023 390,961Q290,906 222,882L222,1050Q360,1111 470,1203Q590,1303 646,1409L763,1409Z" transform="translate(-50.69,0) scale(0.01113,-0.01113)" fill="#000" stroke="#000" stroke-width="9.0"/></g>
<g transform="translate(485.6,44.1) scale(1,1.05)"><text id="tx13" x="0" y="0" class="t20">: C for n=2</text></g>
<g transform="translate(485.6,69.74) scale(1,1.05)"><text id="tx14" x="0" y="0" class="t20">: C2 for n=3</text></g>
<g transform="translate(485.6,95.38) scale(1,1.05)"><text id="tx15" x="0" y="0" class="t20">: C<tspan class="h">1</tspan> for n=3</text><path d="M763,0L583,0L583,1099Q500,1023 390,961Q290,906 222,882L222,1050Q360,1111 470,1203Q590,1303 646,1409L763,1409Z" transform="translate(26.36,0) scale(0.01025,-0.01025)" fill="#000" stroke="#000" stroke-width="19.5"/></g>
<g transform="translate(485.6,121.02) scale(1,1.05)"><text id="tx16" x="0" y="0" class="t20">: C2 for n=4</text></g>
<g transform="translate(485.6,146.66) scale(1,1.05)"><text id="tx17" x="0" y="0" class="t20">: C<tspan class="h">1</tspan> for n=4</text><path d="M763,0L583,0L583,1099Q500,1023 390,961Q290,906 222,882L222,1050Q360,1111 470,1203Q590,1303 646,1409L763,1409Z" transform="translate(26.36,0) scale(0.01025,-0.01025)" fill="#000" stroke="#000" stroke-width="19.5"/></g>
<g transform="translate(485.6,172.3) scale(1,1.05)"><text id="tx18" x="0" y="0" class="t20">: C3 for n=5</text></g>
<g transform="translate(485.6,197.94) scale(1,1.05)"><text id="tx19" x="0" y="0" class="t20">: C2 for n=5</text></g>
<g transform="translate(485.6,223.58) scale(1,1.05)"><text id="tx20" x="0" y="0" class="t20">: C<tspan class="h">1</tspan> for n=5</text><path d="M763,0L583,0L583,1099Q500,1023 390,961Q290,906 222,882L222,1050Q360,1111 470,1203Q590,1303 646,1409L763,1409Z" transform="translate(26.36,0) scale(0.01025,-0.01025)" fill="#000" stroke="#000" stroke-width="19.5"/></g>
<g transform="translate(634.6,409.7) scale(1,1.05)"><text id="tx21" x="0" y="0" class="t20">: C5 for n=6</text></g>
<g transform="translate(634.6,435.4) scale(1,1.05)"><text id="tx22" x="0" y="0" class="t20">: C4 for n=6</text></g>
<g transform="translate(634.6,461.1) scale(1,1.05)"><text id="tx23" x="0" y="0" class="t20">: C3 for n=6</text></g>
<g transform="translate(634.6,486.8) scale(1,1.05)"><text id="tx24" x="0" y="0" class="t20">: C2 for n=6</text></g>
<g transform="translate(634.6,512.5) scale(1,1.05)"><text id="tx25" x="0" y="0" class="t20">: C<tspan class="h">1</tspan> for n=6</text><path d="M763,0L583,0L583,1099Q500,1023 390,961Q290,906 222,882L222,1050Q360,1111 470,1203Q590,1303 646,1409L763,1409Z" transform="translate(26.36,0) scale(0.01025,-0.01025)" fill="#000" stroke="#000" stroke-width="19.5"/></g>
<g transform="translate(341.2,622.8)"><text id="tx26" x="0" y="0" class="t32 ls"><tspan class="h">1</tspan>000/Temperature (K)</text><path d="M763,0L583,0L583,1099Q500,1023 390,961Q290,906 222,882L222,1050Q360,1111 470,1203Q590,1303 646,1409L763,1409Z" transform="translate(0,0) scale(0.01611,-0.01611)" fill="#000" stroke="#000" stroke-width="0"/></g>
<g transform="translate(38.1,577.3) rotate(-90)"><text id="tx27" x="0" y="0" class="t32"><tspan font-size="20" dy="-17.8"><tspan class="h">1</tspan>3</tspan><tspan dy="17.8" dx="-1.3">C Spin-Lattice Relaxation Time (ms)</tspan></text><path d="M763,0L583,0L583,1099Q500,1023 390,961Q290,906 222,882L222,1050Q360,1111 470,1203Q590,1303 646,1409L763,1409Z" transform="translate(0,-17.8) scale(0.00977,-0.00977)" fill="#000" stroke="#000" stroke-width="0"/></g>
</svg></body></html>
